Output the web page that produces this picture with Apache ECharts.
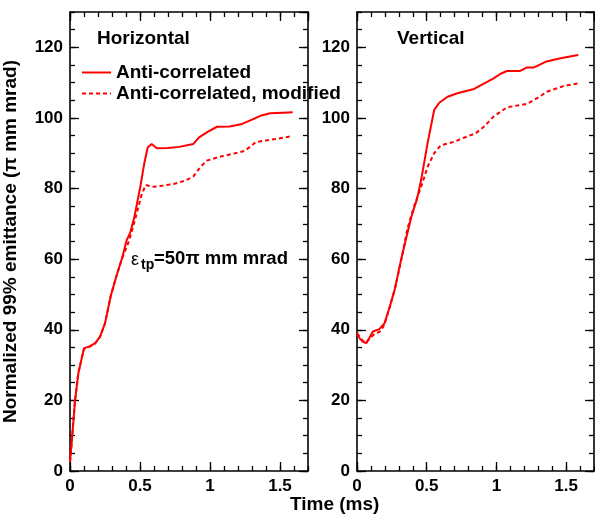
<!DOCTYPE html>
<html>
<head>
<meta charset="utf-8">
<script src="https://cdn.jsdelivr.net/npm/echarts@6/dist/echarts.min.js"></script>
<style>html,body{margin:0;padding:0;background:#fff;}#c{width:595px;height:514px;}</style>
</head>
<body>
<div id="c"></div>
<script>
// ---- data (time in ms, emittance in pi mm mrad) ----
const hSolid = [[0,2.5],[0.012,8],[0.036,20],[0.06,27.7],[0.1,34.8],[0.14,35.3],[0.18,36.2],[0.214,38],[0.25,41.8],[0.29,49.4],[0.33,55],[0.37,60],[0.405,65.4],[0.43,67.5],[0.46,72],[0.5,80],[0.53,87],[0.555,91.6],[0.583,92.6],[0.62,91.4],[0.7,91.5],[0.78,91.8],[0.88,92.6],[0.92,94.4],[0.98,96],[1.05,97.5],[1.14,97.6],[1.23,98.3],[1.3,99.5],[1.36,100.6],[1.43,101.3],[1.52,101.5],[1.59,101.6]];
const hDashed = [[0,2.5],[0.012,8],[0.036,20],[0.06,28],[0.1,34.6],[0.14,35.2],[0.18,36.1],[0.214,38],[0.25,41.8],[0.29,49.4],[0.33,55],[0.37,60],[0.42,65],[0.46,70.5],[0.51,78],[0.54,81],[0.595,80.5],[0.66,80.8],[0.74,81.3],[0.82,82.2],[0.88,83.4],[0.93,86],[0.976,87.9],[1.07,89],[1.16,89.8],[1.25,90.7],[1.33,93.2],[1.4,93.6],[1.48,94.1],[1.59,94.9]];
const vSolid = [[0,39],[0.02,37.5],[0.043,36.6],[0.067,36.2],[0.09,37.8],[0.114,39.5],[0.16,40.2],[0.197,41.8],[0.235,46.5],[0.27,51.3],[0.316,59.8],[0.35,65.5],[0.39,72],[0.43,77],[0.46,82.4],[0.506,92.8],[0.554,102.3],[0.59,104.3],[0.65,106],[0.72,107],[0.84,108.2],[0.9,109.5],[0.98,111.2],[1.03,112.5],[1.076,113.3],[1.17,113.3],[1.22,114.3],[1.27,114.3],[1.36,116],[1.46,116.9],[1.587,117.8]];
const vDashed = [[0,39],[0.043,36.8],[0.067,36.4],[0.09,37.5],[0.12,38.6],[0.17,39.6],[0.197,41.5],[0.235,46.5],[0.27,51.3],[0.316,59.5],[0.364,69],[0.41,75],[0.46,80.5],[0.51,86.5],[0.554,90],[0.6,92.2],[0.7,93.3],[0.767,94.4],[0.85,95.6],[0.91,97.5],[0.98,100.4],[1.076,103],[1.22,104],[1.31,106],[1.36,107.4],[1.48,109],[1.587,109.8]];
const seriesNames = ['Anti-correlated', 'Anti-correlated, modified'];
const panelTitles = ['Horizontal', 'Vertical'];
const xRange = [0, 1.7], xMajor = 0.5, xMinor = 0.1;
const yRange = [0, 130], yMajor = 20, yMinor = 5;
const yAxisTitle = 'Normalized 99% emittance (\u03c0 mm mrad)';
const xAxisTitle = 'Time (ms)';

// ---- build ----
const FONT = '"Liberation Sans", Arial, sans-serif';
const grids = [
  {left: 70, top: 12, width: 238, height: 459},
  {left: 357, top: 12, width: 237, height: 459}
];
function axisSet(kind, g) {
  const isX = kind === 'x';
  const range = isX ? xRange : yRange;
  const positions = isX ? ['bottom', 'top'] : ['left', 'right'];
  const out = [];
  positions.forEach((pos, pi) => {
    [true, false].forEach(major => {
      out.push({
        type: 'value', gridIndex: g, position: pos,
        min: range[0], max: range[1],
        interval: major ? (isX ? xMajor : yMajor) : (isX ? xMinor : yMinor),
        axisLine: {show: major, onZero: false, lineStyle: {color: '#000', width: 1.6}},
        axisTick: {show: true, inside: true, length: major ? 9 : 5, lineStyle: {color: '#000', width: 1.3}},
        axisLabel: {show: major && pi === 0, showMaxLabel: false, margin: 7,
          color: '#000', fontFamily: FONT, fontWeight: 'bold', fontSize: 17},
        splitLine: {show: false},
        name: (!isX && g === 0 && major && pi === 0) ? yAxisTitle : '',
        nameLocation: 'middle', nameGap: 50, nameRotate: 90,
        nameTextStyle: {color: '#000', fontFamily: FONT, fontWeight: 'bold', fontSize: 19}
      });
    });
  });
  return out;
}
const xAxes = [...axisSet('x', 0), ...axisSet('x', 1)];
const yAxes = [...axisSet('y', 0), ...axisSet('y', 1)];

function line(name, data, g, dashed) {
  return {
    type: 'line', name, data, xAxisIndex: g * 4, yAxisIndex: g * 4,
    showSymbol: false, symbol: 'none', smooth: false, animation: false,
    lineStyle: {color: '#ff0000', width: 2, type: dashed ? [4, 3] : 'solid'},
    itemStyle: {color: '#ff0000'}
  };
}

const chart = echarts.init(document.getElementById('c'), null, {renderer: 'canvas'});
chart.setOption({
  animation: false,
  backgroundColor: '#fff',
  grid: grids,
  xAxis: xAxes,
  yAxis: yAxes,
  title: [
    {text: panelTitles[0], left: 92, top: 24, textStyle: {color: '#000', fontFamily: FONT, fontWeight: 'bold', fontSize: 19}},
    {text: panelTitles[1], left: 392, top: 24, textStyle: {color: '#000', fontFamily: FONT, fontWeight: 'bold', fontSize: 19}}
  ],
  legend: {
    data: seriesNames, orient: 'vertical', left: 76, top: 58,
    itemWidth: 29, itemHeight: 10, itemGap: 2,
    itemStyle: {opacity: 0},
    textStyle: {color: '#000', fontFamily: FONT, fontWeight: 'bold', fontSize: 19}
  },
  graphic: [
    {type: 'text', left: 131, top: 251, style: {text: '\u03b5', font: '18px ' + FONT, fill: '#000'}},
    {type: 'text', left: 141, top: 258, style: {text: 'tp', font: 'bold 14px ' + FONT, fill: '#000'}},
    {type: 'text', left: 154, top: 249, style: {text: '=50\u03c0 mm mrad', font: 'bold 18.5px ' + FONT, fill: '#000'}},
    {type: 'text', left: 290, top: 495, style: {text: xAxisTitle, font: 'bold 19px ' + FONT, fill: '#000'}}
  ],
  series: [
    line(seriesNames[0], hSolid, 0, false),
    line(seriesNames[1], hDashed, 0, true),
    line(seriesNames[0], vSolid, 1, false),
    line(seriesNames[1], vDashed, 1, true)
  ]
});
</script>
</body>
</html>
